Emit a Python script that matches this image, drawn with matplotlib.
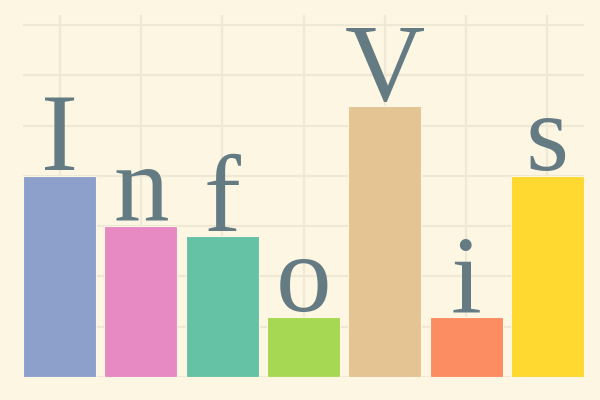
import matplotlib
matplotlib.use("Agg")
import matplotlib.pyplot as plt

letters = ["I", "n", "f", "o", "V", "i", "s"]
values = [4.0, 3.0, 2.8, 1.2, 5.4, 1.2, 4.0]
colors = ["#8da0cb", "#e78ac3", "#66c2a5", "#a6d854", "#e5c494", "#fc8d62", "#ffd92f"]

bg = "#fdf6e3"
grid_c = "#eee8d5"
text_c = "#657b83"

fig = plt.figure(figsize=(6, 4), dpi=100, facecolor=bg)
ax = fig.add_axes([23/600, 23/400, 561/600, 362/400])
ax.set_facecolor(bg)

x = list(range(len(letters)))
ax.bar(x, values, width=0.9, color=colors, edgecolor=bg, linewidth=0.8, zorder=2)

for xi, v, l in zip(x, values, letters):
    ax.annotate(l, (xi, v), xytext=(0, 4), textcoords="offset points",
                ha="center", va="baseline", fontsize=80,
                family=["Liberation Serif", "DejaVu Serif"],
                color=text_c, zorder=3)

ax.set_xlim(-0.45, 6.45)
ax.set_ylim(0, 7.2)
ax.set_xticks(x)
ax.set_yticks(range(0, 8))
ax.grid(True, color=grid_c, linewidth=1.6, zorder=0)
ax.set_axisbelow(True)
ax.tick_params(length=0, labelbottom=False, labelleft=False)
for s in ax.spines.values():
    s.set_visible(False)

fig.savefig("out.png", dpi=100, facecolor=bg)
